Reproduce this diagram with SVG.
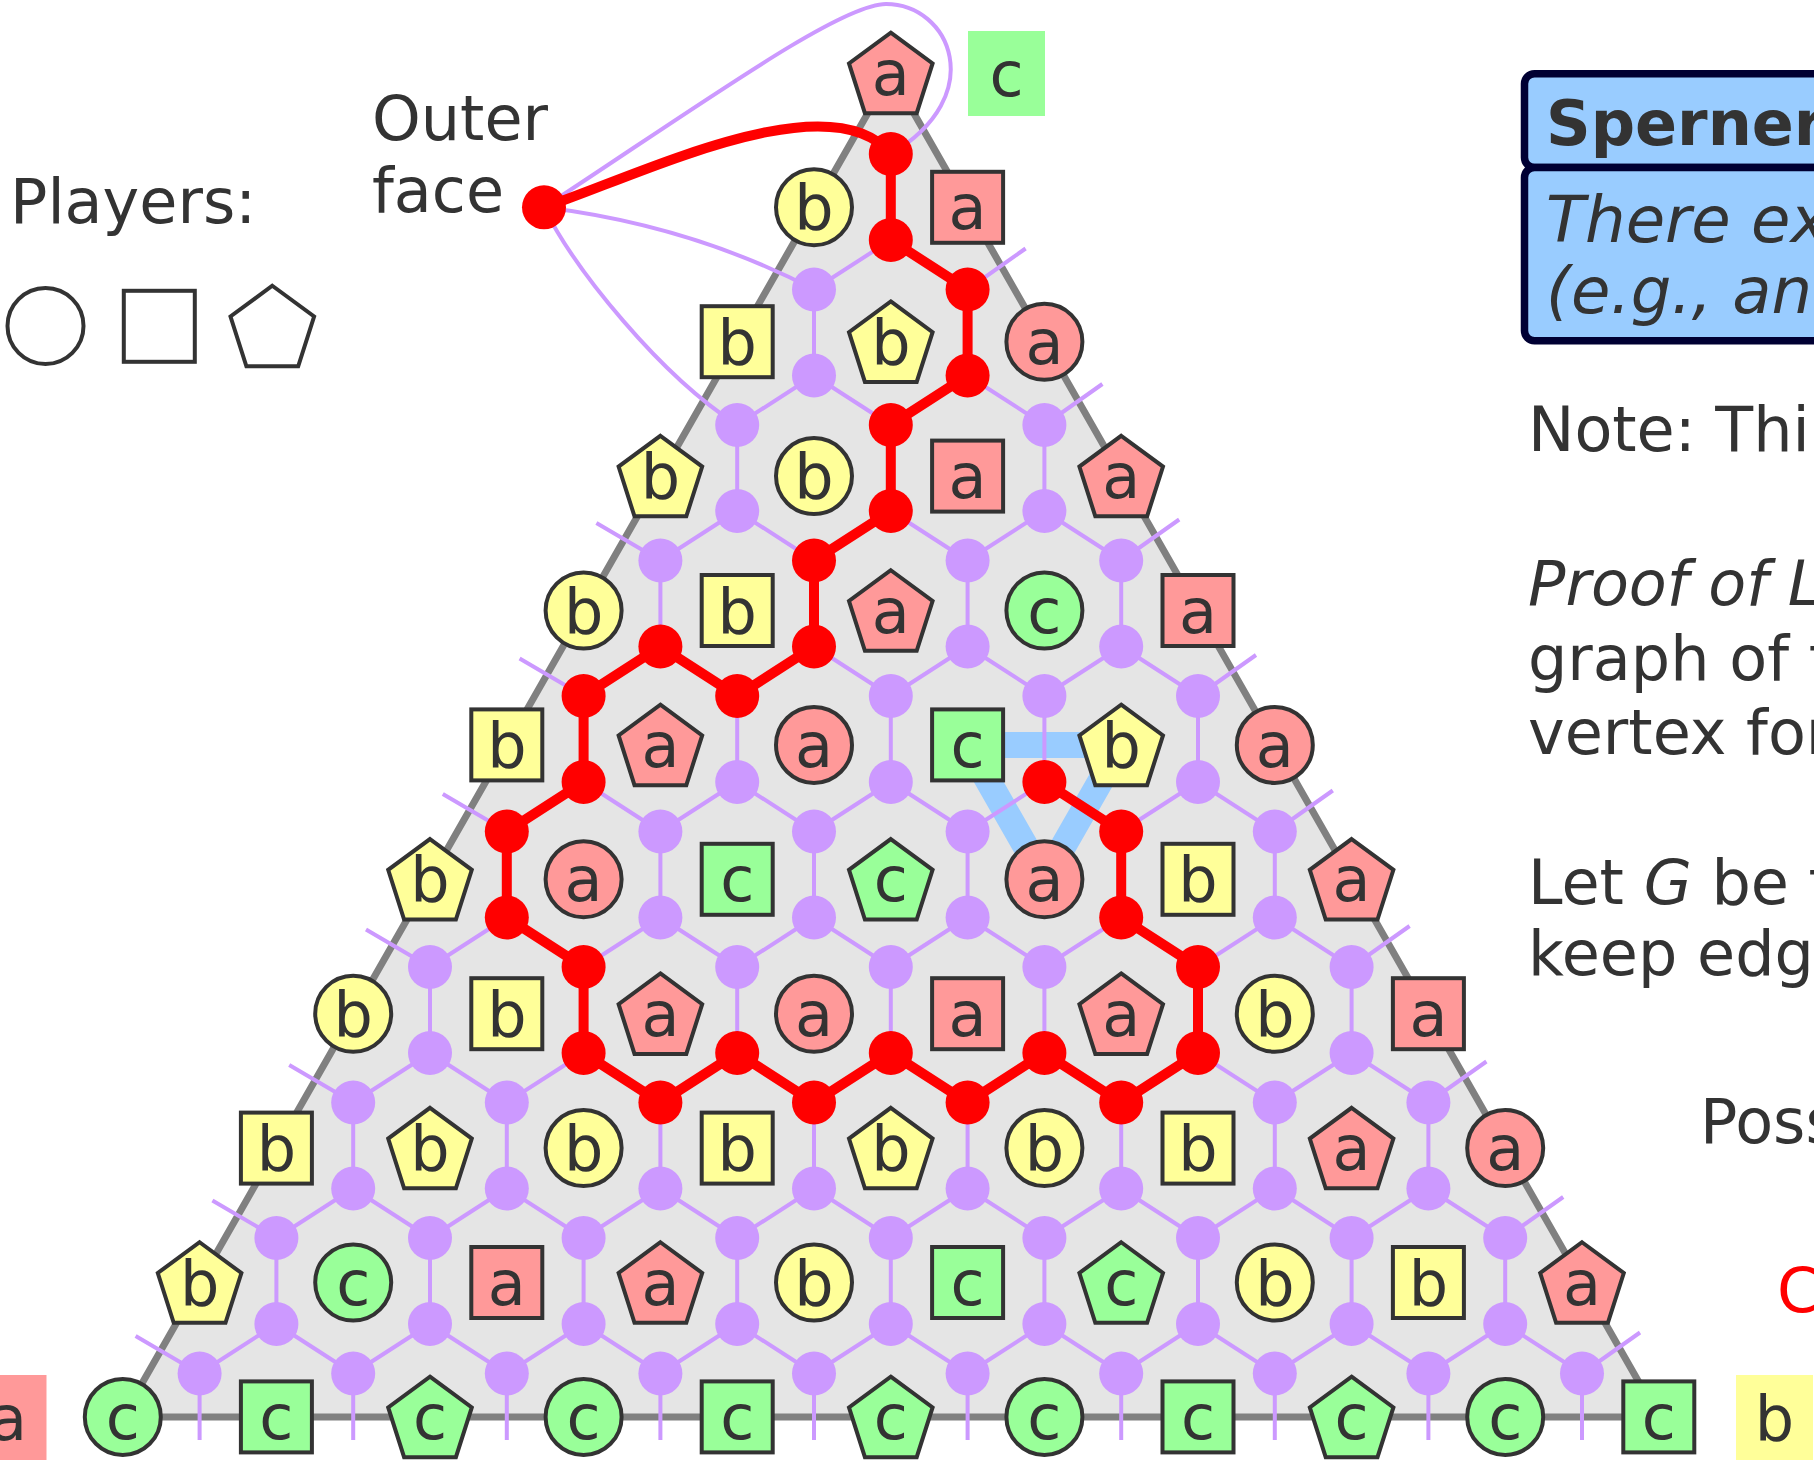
<svg xmlns="http://www.w3.org/2000/svg" width="1814" height="1460" viewBox="0 0 1814 1460">
<style>
.l{font-family:"DejaVu Sans",Verdana,sans-serif;font-size:62px;fill:#333;text-anchor:middle}
.t{font-family:"DejaVu Sans",Verdana,sans-serif;font-size:62px;fill:#333}
.bx{font-size:64px}
.na{fill:#ff9999}.nb{fill:#ffff99}.nc{fill:#99ff99}
.pd{fill:#cc99ff}.rd{fill:#ff0000}
</style>
<defs>
<circle id="ci" r="38" stroke="#333" stroke-width="4"/>
<rect id="sq" x="-35.5" y="-35.5" width="71" height="71" stroke="#333" stroke-width="4"/>
<polygon id="pe" points="0,-40.25 41.8,-9.5 25.9,40.25 -25.9,40.25 -41.8,-9.5" stroke="#333" stroke-width="4"/>
</defs>
<rect width="1814" height="1460" fill="#fff"/>
<polygon id="board" points="890.8,72.9 122.8,1416.9 1658.8,1416.9" fill="#e5e5e5" stroke="#808080" stroke-width="7"/>
<polygon id="trichromatic" points="967.6,744.9 1121.2,744.9 1044.4,879.3" fill="none" stroke="#99ccff" stroke-width="26" stroke-linejoin="round"/>
<g id="dual-edges" fill="none" stroke="#cc99ff" stroke-width="4">
<polyline points="814.0,289.5 890.8,240 967.6,289.5"/>
<polyline points="737.2,425 814.0,375.5 890.8,425 967.6,375.5 1044.4,425"/>
<polyline points="660.4,560.5 737.2,511 814.0,560.5 890.8,511 967.6,560.5 1044.4,511 1121.2,560.5"/>
<polyline points="583.6,696 660.4,646.5 737.2,696 814.0,646.5 890.8,696 967.6,646.5 1044.4,696 1121.2,646.5 1198.0,696"/>
<polyline points="506.8,831.5 583.6,782 660.4,831.5 737.2,782 814.0,831.5 890.8,782 967.6,831.5 1044.4,782 1121.2,831.5 1198.0,782 1274.8,831.5"/>
<polyline points="430.0,967 506.8,917.5 583.6,967 660.4,917.5 737.2,967 814.0,917.5 890.8,967 967.6,917.5 1044.4,967 1121.2,917.5 1198.0,967 1274.8,917.5 1351.6,967"/>
<polyline points="353.2,1102.5 430.0,1053 506.8,1102.5 583.6,1053 660.4,1102.5 737.2,1053 814.0,1102.5 890.8,1053 967.6,1102.5 1044.4,1053 1121.2,1102.5 1198.0,1053 1274.8,1102.5 1351.6,1053 1428.4,1102.5"/>
<polyline points="276.4,1238 353.2,1188.5 430.0,1238 506.8,1188.5 583.6,1238 660.4,1188.5 737.2,1238 814.0,1188.5 890.8,1238 967.6,1188.5 1044.4,1238 1121.2,1188.5 1198.0,1238 1274.8,1188.5 1351.6,1238 1428.4,1188.5 1505.2,1238"/>
<polyline points="199.6,1373.5 276.4,1324 353.2,1373.5 430.0,1324 506.8,1373.5 583.6,1324 660.4,1373.5 737.2,1324 814.0,1373.5 890.8,1324 967.6,1373.5 1044.4,1324 1121.2,1373.5 1198.0,1324 1274.8,1373.5 1351.6,1324 1428.4,1373.5 1505.2,1324 1582.0,1373.5"/>
<path d="M890.8 154V240M814 289.5V375.5M967.6 289.5V375.5M737.2 425V511M890.8 425V511M1044.4 425V511M660.4 560.5V646.5M814 560.5V646.5M967.6 560.5V646.5M1121.2 560.5V646.5M583.6 696V782M737.2 696V782M890.8 696V782M1044.4 696V782M1198 696V782M506.8 831.5V917.5M660.4 831.5V917.5M814 831.5V917.5M967.6 831.5V917.5M1121.2 831.5V917.5M1274.8 831.5V917.5M430 967V1053M583.6 967V1053M737.2 967V1053M890.8 967V1053M1044.4 967V1053M1198 967V1053M1351.6 967V1053M353.2 1102.5V1188.5M506.8 1102.5V1188.5M660.4 1102.5V1188.5M814 1102.5V1188.5M967.6 1102.5V1188.5M1121.2 1102.5V1188.5M1274.8 1102.5V1188.5M1428.4 1102.5V1188.5M276.4 1238V1324M430 1238V1324M583.6 1238V1324M737.2 1238V1324M890.8 1238V1324M1044.4 1238V1324M1198 1238V1324M1351.6 1238V1324M1505.2 1238V1324"/>
<path d="M199.6 1373.5V1440M353.2 1373.5V1440M506.8 1373.5V1440M660.4 1373.5V1440M814 1373.5V1440M967.6 1373.5V1440M1121.2 1373.5V1440M1274.8 1373.5V1440M1428.4 1373.5V1440M1582 1373.5V1440"/>
<path d="M660.4 560.5L596.4 523M583.6 696L519.6 658.5M506.8 831.5L442.8 794M430 967L366 929.5M353.2 1102.5L289.2 1065M276.4 1238L212.4 1200.5M199.6 1373.5L135.6 1336"/>
<path d="M967.6 289.5L1025.6 248.5M1044.4 425L1102.4 384M1121.2 560.5L1179.2 519.5M1198 696L1256 655M1274.8 831.5L1332.8 790.5M1351.6 967L1409.6 926M1428.4 1102.5L1486.4 1061.5M1505.2 1238L1563.2 1197M1582 1373.5L1640 1332.5"/>
<path d="M544 207.3C700 105 840 4 886 4C950 4 990 95 890.8 154"/>
<path d="M544 207.3Q690 225 814 289.5"/>
<path d="M544 207.3C575 270 660 375 737.2 425"/>
</g>
<g id="path-edges" fill="none" stroke="#ff0000" stroke-width="10" stroke-linejoin="round">
<path d="M544 207.3C640 175 830 80 890.8 154"/>
<polyline points="890.8,154 890.8,240 967.6,289.5 967.6,375.5 890.8,425 890.8,511 814.0,560.5 814.0,646.5 737.2,696 660.4,646.5 583.6,696 583.6,782 506.8,831.5 506.8,917.5 583.6,967 583.6,1053 660.4,1102.5 737.2,1053 814.0,1102.5 890.8,1053 967.6,1102.5 1044.4,1053 1121.2,1102.5 1198.0,1053 1198.0,967 1121.2,917.5 1121.2,831.5 1044.4,782"/>
</g>
<g id="dual-vertices" class="pd">
<circle cx="814" cy="289.5" r="22"/>
<circle cx="737.2" cy="425" r="22"/><circle cx="814" cy="375.5" r="22"/><circle cx="1044.4" cy="425" r="22"/>
<circle cx="660.4" cy="560.5" r="22"/><circle cx="737.2" cy="511" r="22"/><circle cx="967.6" cy="560.5" r="22"/><circle cx="1044.4" cy="511" r="22"/><circle cx="1121.2" cy="560.5" r="22"/>
<circle cx="890.8" cy="696" r="22"/><circle cx="967.6" cy="646.5" r="22"/><circle cx="1044.4" cy="696" r="22"/><circle cx="1121.2" cy="646.5" r="22"/><circle cx="1198" cy="696" r="22"/>
<circle cx="660.4" cy="831.5" r="22"/><circle cx="737.2" cy="782" r="22"/><circle cx="814" cy="831.5" r="22"/><circle cx="890.8" cy="782" r="22"/><circle cx="967.6" cy="831.5" r="22"/><circle cx="1198" cy="782" r="22"/><circle cx="1274.8" cy="831.5" r="22"/>
<circle cx="430" cy="967" r="22"/><circle cx="660.4" cy="917.5" r="22"/><circle cx="737.2" cy="967" r="22"/><circle cx="814" cy="917.5" r="22"/><circle cx="890.8" cy="967" r="22"/><circle cx="967.6" cy="917.5" r="22"/><circle cx="1044.4" cy="967" r="22"/><circle cx="1274.8" cy="917.5" r="22"/><circle cx="1351.6" cy="967" r="22"/>
<circle cx="353.2" cy="1102.5" r="22"/><circle cx="430" cy="1053" r="22"/><circle cx="506.8" cy="1102.5" r="22"/><circle cx="1274.8" cy="1102.5" r="22"/><circle cx="1351.6" cy="1053" r="22"/><circle cx="1428.4" cy="1102.5" r="22"/>
<circle cx="276.4" cy="1238" r="22"/><circle cx="353.2" cy="1188.5" r="22"/><circle cx="430" cy="1238" r="22"/><circle cx="506.8" cy="1188.5" r="22"/><circle cx="583.6" cy="1238" r="22"/><circle cx="660.4" cy="1188.5" r="22"/><circle cx="737.2" cy="1238" r="22"/><circle cx="814" cy="1188.5" r="22"/><circle cx="890.8" cy="1238" r="22"/><circle cx="967.6" cy="1188.5" r="22"/><circle cx="1044.4" cy="1238" r="22"/><circle cx="1121.2" cy="1188.5" r="22"/><circle cx="1198" cy="1238" r="22"/><circle cx="1274.8" cy="1188.5" r="22"/><circle cx="1351.6" cy="1238" r="22"/><circle cx="1428.4" cy="1188.5" r="22"/><circle cx="1505.2" cy="1238" r="22"/>
<circle cx="199.6" cy="1373.5" r="22"/><circle cx="276.4" cy="1324" r="22"/><circle cx="353.2" cy="1373.5" r="22"/><circle cx="430" cy="1324" r="22"/><circle cx="506.8" cy="1373.5" r="22"/><circle cx="583.6" cy="1324" r="22"/><circle cx="660.4" cy="1373.5" r="22"/><circle cx="737.2" cy="1324" r="22"/><circle cx="814" cy="1373.5" r="22"/><circle cx="890.8" cy="1324" r="22"/><circle cx="967.6" cy="1373.5" r="22"/><circle cx="1044.4" cy="1324" r="22"/><circle cx="1121.2" cy="1373.5" r="22"/><circle cx="1198" cy="1324" r="22"/><circle cx="1274.8" cy="1373.5" r="22"/><circle cx="1351.6" cy="1324" r="22"/><circle cx="1428.4" cy="1373.5" r="22"/><circle cx="1505.2" cy="1324" r="22"/><circle cx="1582" cy="1373.5" r="22"/>
</g>
<g id="path-vertices" class="rd">
<circle cx="890.8" cy="154" r="22"/><circle cx="890.8" cy="240" r="22"/><circle cx="967.6" cy="289.5" r="22"/><circle cx="967.6" cy="375.5" r="22"/><circle cx="890.8" cy="425" r="22"/><circle cx="890.8" cy="511" r="22"/><circle cx="814" cy="560.5" r="22"/><circle cx="814" cy="646.5" r="22"/><circle cx="737.2" cy="696" r="22"/><circle cx="660.4" cy="646.5" r="22"/><circle cx="583.6" cy="696" r="22"/><circle cx="583.6" cy="782" r="22"/><circle cx="506.8" cy="831.5" r="22"/><circle cx="506.8" cy="917.5" r="22"/><circle cx="583.6" cy="967" r="22"/><circle cx="583.6" cy="1053" r="22"/><circle cx="660.4" cy="1102.5" r="22"/><circle cx="737.2" cy="1053" r="22"/><circle cx="814" cy="1102.5" r="22"/><circle cx="890.8" cy="1053" r="22"/><circle cx="967.6" cy="1102.5" r="22"/><circle cx="1044.4" cy="1053" r="22"/><circle cx="1121.2" cy="1102.5" r="22"/><circle cx="1198" cy="1053" r="22"/><circle cx="1198" cy="967" r="22"/><circle cx="1121.2" cy="917.5" r="22"/><circle cx="1121.2" cy="831.5" r="22"/><circle cx="1044.4" cy="782" r="22"/>
</g>
<g id="outer-face" class="rd"><circle cx="544" cy="207.3" r="22"/></g>
<g id="nodes">
<g id="v0-0" class="na" transform="translate(890.8 72.9)"><use href="#pe"/><text class="l" y="22">a</text></g>
<g id="v1-0" class="nb" transform="translate(814 207.3)"><use href="#ci"/><text class="l" y="22">b</text></g>
<g id="v1-1" class="na" transform="translate(967.6 207.3)"><use href="#sq"/><text class="l" y="22">a</text></g>
<g id="v2-0" class="nb" transform="translate(737.2 341.7)"><use href="#sq"/><text class="l" y="22">b</text></g>
<g id="v2-1" class="nb" transform="translate(890.8 341.7)"><use href="#pe"/><text class="l" y="22">b</text></g>
<g id="v2-2" class="na" transform="translate(1044.4 341.7)"><use href="#ci"/><text class="l" y="22">a</text></g>
<g id="v3-0" class="nb" transform="translate(660.4 476.1)"><use href="#pe"/><text class="l" y="22">b</text></g>
<g id="v3-1" class="nb" transform="translate(814 476.1)"><use href="#ci"/><text class="l" y="22">b</text></g>
<g id="v3-2" class="na" transform="translate(967.6 476.1)"><use href="#sq"/><text class="l" y="22">a</text></g>
<g id="v3-3" class="na" transform="translate(1121.2 476.1)"><use href="#pe"/><text class="l" y="22">a</text></g>
<g id="v4-0" class="nb" transform="translate(583.6 610.5)"><use href="#ci"/><text class="l" y="22">b</text></g>
<g id="v4-1" class="nb" transform="translate(737.2 610.5)"><use href="#sq"/><text class="l" y="22">b</text></g>
<g id="v4-2" class="na" transform="translate(890.8 610.5)"><use href="#pe"/><text class="l" y="22">a</text></g>
<g id="v4-3" class="nc" transform="translate(1044.4 610.5)"><use href="#ci"/><text class="l" y="22">c</text></g>
<g id="v4-4" class="na" transform="translate(1198 610.5)"><use href="#sq"/><text class="l" y="22">a</text></g>
<g id="v5-0" class="nb" transform="translate(506.8 744.9)"><use href="#sq"/><text class="l" y="22">b</text></g>
<g id="v5-1" class="na" transform="translate(660.4 744.9)"><use href="#pe"/><text class="l" y="22">a</text></g>
<g id="v5-2" class="na" transform="translate(814 744.9)"><use href="#ci"/><text class="l" y="22">a</text></g>
<g id="v5-3" class="nc" transform="translate(967.6 744.9)"><use href="#sq"/><text class="l" y="22">c</text></g>
<g id="v5-4" class="nb" transform="translate(1121.2 744.9)"><use href="#pe"/><text class="l" y="22">b</text></g>
<g id="v5-5" class="na" transform="translate(1274.8 744.9)"><use href="#ci"/><text class="l" y="22">a</text></g>
<g id="v6-0" class="nb" transform="translate(430 879.3)"><use href="#pe"/><text class="l" y="22">b</text></g>
<g id="v6-1" class="na" transform="translate(583.6 879.3)"><use href="#ci"/><text class="l" y="22">a</text></g>
<g id="v6-2" class="nc" transform="translate(737.2 879.3)"><use href="#sq"/><text class="l" y="22">c</text></g>
<g id="v6-3" class="nc" transform="translate(890.8 879.3)"><use href="#pe"/><text class="l" y="22">c</text></g>
<g id="v6-4" class="na" transform="translate(1044.4 879.3)"><use href="#ci"/><text class="l" y="22">a</text></g>
<g id="v6-5" class="nb" transform="translate(1198 879.3)"><use href="#sq"/><text class="l" y="22">b</text></g>
<g id="v6-6" class="na" transform="translate(1351.6 879.3)"><use href="#pe"/><text class="l" y="22">a</text></g>
<g id="v7-0" class="nb" transform="translate(353.2 1013.7)"><use href="#ci"/><text class="l" y="22">b</text></g>
<g id="v7-1" class="nb" transform="translate(506.8 1013.7)"><use href="#sq"/><text class="l" y="22">b</text></g>
<g id="v7-2" class="na" transform="translate(660.4 1013.7)"><use href="#pe"/><text class="l" y="22">a</text></g>
<g id="v7-3" class="na" transform="translate(814 1013.7)"><use href="#ci"/><text class="l" y="22">a</text></g>
<g id="v7-4" class="na" transform="translate(967.6 1013.7)"><use href="#sq"/><text class="l" y="22">a</text></g>
<g id="v7-5" class="na" transform="translate(1121.2 1013.7)"><use href="#pe"/><text class="l" y="22">a</text></g>
<g id="v7-6" class="nb" transform="translate(1274.8 1013.7)"><use href="#ci"/><text class="l" y="22">b</text></g>
<g id="v7-7" class="na" transform="translate(1428.4 1013.7)"><use href="#sq"/><text class="l" y="22">a</text></g>
<g id="v8-0" class="nb" transform="translate(276.4 1148.1)"><use href="#sq"/><text class="l" y="22">b</text></g>
<g id="v8-1" class="nb" transform="translate(430 1148.1)"><use href="#pe"/><text class="l" y="22">b</text></g>
<g id="v8-2" class="nb" transform="translate(583.6 1148.1)"><use href="#ci"/><text class="l" y="22">b</text></g>
<g id="v8-3" class="nb" transform="translate(737.2 1148.1)"><use href="#sq"/><text class="l" y="22">b</text></g>
<g id="v8-4" class="nb" transform="translate(890.8 1148.1)"><use href="#pe"/><text class="l" y="22">b</text></g>
<g id="v8-5" class="nb" transform="translate(1044.4 1148.1)"><use href="#ci"/><text class="l" y="22">b</text></g>
<g id="v8-6" class="nb" transform="translate(1198 1148.1)"><use href="#sq"/><text class="l" y="22">b</text></g>
<g id="v8-7" class="na" transform="translate(1351.6 1148.1)"><use href="#pe"/><text class="l" y="22">a</text></g>
<g id="v8-8" class="na" transform="translate(1505.2 1148.1)"><use href="#ci"/><text class="l" y="22">a</text></g>
<g id="v9-0" class="nb" transform="translate(199.6 1282.5)"><use href="#pe"/><text class="l" y="22">b</text></g>
<g id="v9-1" class="nc" transform="translate(353.2 1282.5)"><use href="#ci"/><text class="l" y="22">c</text></g>
<g id="v9-2" class="na" transform="translate(506.8 1282.5)"><use href="#sq"/><text class="l" y="22">a</text></g>
<g id="v9-3" class="na" transform="translate(660.4 1282.5)"><use href="#pe"/><text class="l" y="22">a</text></g>
<g id="v9-4" class="nb" transform="translate(814 1282.5)"><use href="#ci"/><text class="l" y="22">b</text></g>
<g id="v9-5" class="nc" transform="translate(967.6 1282.5)"><use href="#sq"/><text class="l" y="22">c</text></g>
<g id="v9-6" class="nc" transform="translate(1121.2 1282.5)"><use href="#pe"/><text class="l" y="22">c</text></g>
<g id="v9-7" class="nb" transform="translate(1274.8 1282.5)"><use href="#ci"/><text class="l" y="22">b</text></g>
<g id="v9-8" class="nb" transform="translate(1428.4 1282.5)"><use href="#sq"/><text class="l" y="22">b</text></g>
<g id="v9-9" class="na" transform="translate(1582 1282.5)"><use href="#pe"/><text class="l" y="22">a</text></g>
<g id="v10-0" class="nc" transform="translate(122.8 1416.9)"><use href="#ci"/><text class="l" y="22">c</text></g>
<g id="v10-1" class="nc" transform="translate(276.4 1416.9)"><use href="#sq"/><text class="l" y="22">c</text></g>
<g id="v10-2" class="nc" transform="translate(430 1416.9)"><use href="#pe"/><text class="l" y="22">c</text></g>
<g id="v10-3" class="nc" transform="translate(583.6 1416.9)"><use href="#ci"/><text class="l" y="22">c</text></g>
<g id="v10-4" class="nc" transform="translate(737.2 1416.9)"><use href="#sq"/><text class="l" y="22">c</text></g>
<g id="v10-5" class="nc" transform="translate(890.8 1416.9)"><use href="#pe"/><text class="l" y="22">c</text></g>
<g id="v10-6" class="nc" transform="translate(1044.4 1416.9)"><use href="#ci"/><text class="l" y="22">c</text></g>
<g id="v10-7" class="nc" transform="translate(1198 1416.9)"><use href="#sq"/><text class="l" y="22">c</text></g>
<g id="v10-8" class="nc" transform="translate(1351.6 1416.9)"><use href="#pe"/><text class="l" y="22">c</text></g>
<g id="v10-9" class="nc" transform="translate(1505.2 1416.9)"><use href="#ci"/><text class="l" y="22">c</text></g>
<g id="v10-10" class="nc" transform="translate(1658.8 1416.9)"><use href="#sq"/><text class="l" y="22">c</text></g>
</g>
<g id="corner-labels">
<g id="corner-c" transform="translate(1006.5 73.5)"><rect x="-38.5" y="-42.5" width="77" height="85" fill="#99ff99"/><text class="l" y="22">c</text></g>
<g id="corner-a" transform="translate(8 1417.5)"><rect x="-38.5" y="-42.5" width="77" height="85" fill="#ff9999"/><text class="l" y="22">a</text></g>
<g id="corner-b" transform="translate(1774.5 1417.5)"><rect x="-38.5" y="-42.5" width="77" height="85" fill="#ffff99"/><text class="l" y="22">b</text></g>
</g>
<g id="legend">
<text class="t" x="10" y="223">Players:</text>
<g fill="#fff">
<use href="#ci" transform="translate(45.5 326)"/>
<use href="#sq" transform="translate(159.3 326.3)"/>
<use href="#pe" transform="translate(272.3 326)"/>
</g>
<text class="t" x="372" y="140">Outer</text>
<text class="t" x="372" y="211.7">face</text>
</g>
<g id="lemma-box">
<rect x="1524.5" y="73.75" width="400" height="93.75" rx="10" fill="#99ccff" stroke="#000033" stroke-width="7.5"/>
<rect x="1524.5" y="167.5" width="400" height="173.3" rx="10" fill="#99ccff" stroke="#000033" stroke-width="7.5"/>
<text class="t" x="1546" y="145" font-weight="bold">Sperner</text>
<text class="t bx" x="1546" y="241.7" font-style="italic">There ex</text>
<text class="t bx" x="1546" y="313" font-style="italic">(e.g., an</text>
</g>
<g id="notes">
<text class="t" x="1528" y="451">Note: Thi</text>
<text class="t" x="1528" y="605.3" font-style="italic">Proof of L</text>
<text class="t" x="1528" y="680.4">graph of t</text>
<text class="t" x="1528" y="753.5">vertex for</text>
<text class="t" x="1528" y="903.7">Let <tspan font-style="italic">G</tspan> be t</text>
<text class="t" x="1528" y="974.8">keep edge</text>
<text class="t" x="1700" y="1143.3">Poss</text>
<text class="t" x="1777" y="1311.7" style="fill:#ff0000">C</text>
</g>
</svg>
